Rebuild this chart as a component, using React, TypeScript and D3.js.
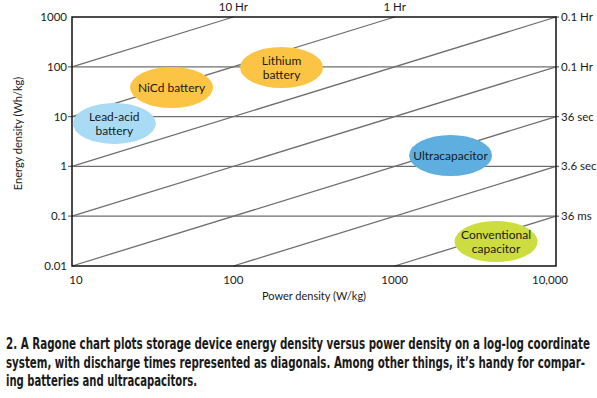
import React from 'react';
import * as d3 from 'd3';

// ─── data ──────────────────────────────────────────────────────────────────
const powerTicks = [10, 100, 1000, 10000];
const powerTickLabels = ['10', '100', '1000', '10,000'];
const energyTicks = [0.01, 0.1, 1, 10, 100, 1000];
const energyTickLabels = ['0.01', '0.1', '1', '10', '100', '1000'];
const gridEnergies = [0.1, 1, 10, 100];

// discharge-time diagonals (hours) and the labels printed at their ends
const dischargeHours = [10, 1, 0.1, 0.01, 0.001, 0.0001, 0.00001];
const dischargeLabels = ['10 Hr', '1 Hr', '0.1 Hr', '0.1 Hr', '36 sec', '3.6 sec', '36 ms'];

const deviceNames = [['Lead-acid', 'battery'], ['NiCd battery'], ['Lithium', 'battery'], ['Ultracapacitor'], ['Conventional', 'capacitor']];
const devicePower = [18.3, 41.4, 199, 2220, 4250];
const deviceEnergy = [7.3, 38.4, 97, 1.66, 0.031];
const deviceColors = ['#a9dcf4', '#fcc444', '#fcc444', '#5eafe0', '#cddc3e'];

const captionLines = [
  '2. A Ragone chart plots storage device energy density versus power density on a log-log coordinate',
  'system, with discharge times represented as diagonals. Among other things, it\u2019s handy for compar-',
  'ing batteries and ultracapacitors.',
];
const captionWidths = [584, 579, 191];

// ─── layout ────────────────────────────────────────────────────────────────
const W = 597;
const H = 398;
const L = 72, R = 556, T = 17, B = 266;
const FONT = 'Lato, "Open Sans", sans-serif';
const LINE = '#6f6f6f';
const CAP_SX = 0.72; // caption face is a condensed bold

export default function App() {
  const x = d3.scaleLog().domain([10, 10000]).range([L, R]);
  const y = d3.scaleLog().domain([0.01, 1000]).range([B, T]);
  const [pMin, pMax] = x.domain();
  const [eMin, eMax] = y.domain();

  const diagonals = dischargeHours.map((t, i) => {
    const p0 = Math.max(pMin, eMin / t);
    const p1 = Math.min(pMax, eMax / t);
    return { t, label: dischargeLabels[i], p0, e0: p0 * t, p1, e1: p1 * t };
  });
  const line = d3.line<[number, number]>().x(d => x(d[0])).y(d => y(d[1]));

  return (
    <svg width={W} height={H} style={{ position: 'absolute', left: 0, top: 0, background: '#fff' }}>
      {/* gridlines */}
      {gridEnergies.map(e => (
        <line key={e} x1={L - 4} x2={R} y1={y(e)} y2={y(e)} stroke={LINE} strokeWidth={1.3} />
      ))}
      {/* discharge diagonals */}
      {diagonals.map(d => (
        <path key={d.t} d={line([[d.p0, d.e0], [d.p1, d.e1]]) ?? undefined} stroke={LINE} strokeWidth={1.3} fill="none" />
      ))}
      {/* right-end stubs */}
      {diagonals.filter(d => d.p1 >= pMax).map(d => (
        <line key={d.t} x1={R} x2={R + 3} y1={y(d.e1)} y2={y(d.e1)} stroke={LINE} strokeWidth={1.3} />
      ))}
      {/* frame */}
      <rect x={L} y={T} width={R - L} height={B - T} fill="none" stroke="#111" strokeWidth={1.5} />

      {/* devices */}
      {deviceNames.map((lines, i) => {
        const cx = x(devicePower[i]);
        const cy = y(deviceEnergy[i]);
        return (
          <g key={i}>
            <ellipse cx={cx} cy={cy} rx={41.5} ry={20.5} fill={deviceColors[i]} />
            {lines.map((s, j) => (
              <text
                key={j}
                x={cx}
                y={cy + 4.5 + (j - (lines.length - 1) / 2) * 13.5}
                textAnchor="middle"
                fontFamily={FONT}
                fontSize={12}
                fill="#1a1a1a"
              >
                {s}
              </text>
            ))}
          </g>
        );
      })}

      {/* diagonal labels */}
      {diagonals.map(d =>
        d.p1 >= pMax ? (
          <text key={d.t} x={R + 5} y={y(d.e1) + 4} fontFamily={FONT} fontSize={11.5} fill="#1a1a1a">
            {d.label}
          </text>
        ) : (
          <text key={d.t} x={x(d.p1)} y={T - 6} textAnchor="middle" fontFamily={FONT} fontSize={11.5} fill="#1a1a1a">
            {d.label}
          </text>
        ),
      )}

      {/* axes labels */}
      {energyTicks.map((e, i) => (
        <text key={e} x={L - 5} y={y(e) + 4} textAnchor="end" fontFamily={FONT} fontSize={11.5} fill="#1a1a1a">
          {energyTickLabels[i]}
        </text>
      ))}
      {powerTicks.map((p, i) => (
        <text
          key={p}
          x={x(p) + (i === 0 ? 4 : i === powerTicks.length - 1 ? -6 : 0)}
          y={B + 18}
          textAnchor="middle"
          fontFamily={FONT}
          fontSize={11.5}
          fill="#1a1a1a"
        >
          {powerTickLabels[i]}
        </text>
      ))}
      <text x={(L + R) / 2} y={B + 34} textAnchor="middle" fontFamily={FONT} fontSize={11} fill="#1a1a1a">
        Power density (W/kg)
      </text>
      <text
        transform={`translate(22, ${(T + B) / 2 - 8}) rotate(-90)`}
        textAnchor="middle"
        fontFamily={FONT}
        fontSize={11}
        fill="#1a1a1a"
      >
        Energy density (Wh/kg)
      </text>

      {/* caption */}
      {captionLines.map((s, i) => (
        <text
          key={i}
          transform={`translate(6, ${349 + i * 18.5}) scale(${CAP_SX}, 1)`}
          fontFamily='"Liberation Sans Narrow", "DejaVu Sans Condensed", sans-serif'
          fontWeight="bold"
          fontSize={15}
          fill="#1a1a1a"
          textLength={captionWidths[i] / CAP_SX}
          lengthAdjust="spacingAndGlyphs"
        >
          {s}
        </text>
      ))}
    </svg>
  );
}
